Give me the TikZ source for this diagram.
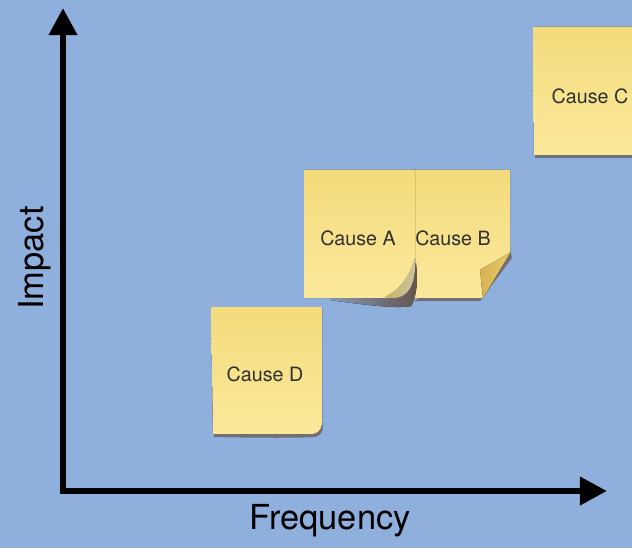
\documentclass[tikz,border=0pt]{standalone}
\usepackage{fontspec}
\setmainfont{TeX Gyre Heros}
\usetikzlibrary{arrows.meta,positioning,calc}
\definecolor{boardblue}{RGB}{143,175,221}
\definecolor{paper}{RGB}{244,219,124}
\definecolor{paperlight}{RGB}{250,232,155}
\definecolor{paperfold}{RGB}{214,178,82}
\definecolor{papershade}{RGB}{100,84,76}
\definecolor{inkgray}{RGB}{48,48,48}
\tikzset{
  axis/.style={line width=4.7pt, miter limit=4,
    {Triangle[length=0.68cm, width=0.68cm]}-{Triangle[length=0.68cm, width=0.68cm]}},
  axlab/.style={font=\fontsize{24.5}{28}\selectfont, text=black},
  note/.style={font=\fontsize{14}{16}\selectfont, text=inkgray, inner sep=0pt},
  paper/.style={top color=paper, bottom color=paperlight},
  shade/.style={fill=papershade, opacity=0.7},
  curl/.style={left color=paper, right color=paperlight!55!white, opacity=0.75},
  lip/.style={left color=papershade!25!boardblue, right color=papershade},
  flap/.style={left color=paperfold, right color=paper!60!paperfold},
}

\begin{document}
\begin{tikzpicture}[x=0.025cm, y=0.025cm]
  \clip (0,0) rectangle (632,548);
  \fill[boardblue] (0,0) rectangle (632,548);

  % Cause C, cut off at the right
  \fill[shade] (535,390) -- (640,390) -- (640,396) -- (535,396) -- cycle;
  \fill[paper] (533,521) -- (640,521) -- (640,393) -- (534,393) -- cycle;
  \fill[paperlight, opacity=0.5] (534,396) rectangle (640,408);

  % Cause D
  \fill[shade] (214,111) .. controls (260,110) and (300,110) .. (315,111)
    .. controls (320,112) and (323,116) .. (323,122) -- (322,126) -- (214,116) -- cycle;
  \fill[paper] (211,241) -- (322,241) -- (322,124) .. controls (321,118) and (318,115) .. (313,114)
    -- (213,114) -- cycle;

  % Cause B with folded corner
  \fill[shade] (414,247) -- (480,247) -- (512,290) -- (510,298) -- cycle;
  \fill[paper] (412,378) -- (510,378) -- (510,295) -- (483,250) -- (412,250) -- cycle;
  \fill[papershade, opacity=0.4] (510,295) -- (483,250) -- (486,262) -- cycle;
  \fill[flap] (510,295) -- (483,250) -- (480,278) -- cycle;

  % Cause A with curled corner
  \fill[lip] (330,248) .. controls (365,243) and (398,239) .. (411,242)
    .. controls (417,252) and (418,268) .. (416,285) -- (415,285) -- (330,251) -- cycle;
  \fill[paper] (304,378) -- (415,378) -- (415,280) .. controls (414,262) and (408,252) .. (396,250)
    -- (304,250) -- cycle;
  \fill[curl] (415,290) .. controls (410,272) and (400,258) .. (385,251)
    -- (396,250) .. controls (408,252) and (414,262) .. (415,280) -- cycle;

  \node[note] (causeC) at (590,452) {Cause C};
  \node[note] (causeD) at (265,174) {Cause D};
  \node[note] (causeB) at (453,310) {Cause B};
  \node[note] (causeA) at (358,310) {Cause A};

  % axes
  \coordinate (origin) at (63,57);
  \coordinate (ytop) at (63,540);
  \coordinate (xend) at (607,57);
  \draw[axis] (ytop) -- (origin) -- (xend);
  \node[axlab, rotate=90] (impact) at (35,290) {Impact};
  \node[axlab] (frequency) at (330,27) {Frequency};
\end{tikzpicture}
\end{document}
